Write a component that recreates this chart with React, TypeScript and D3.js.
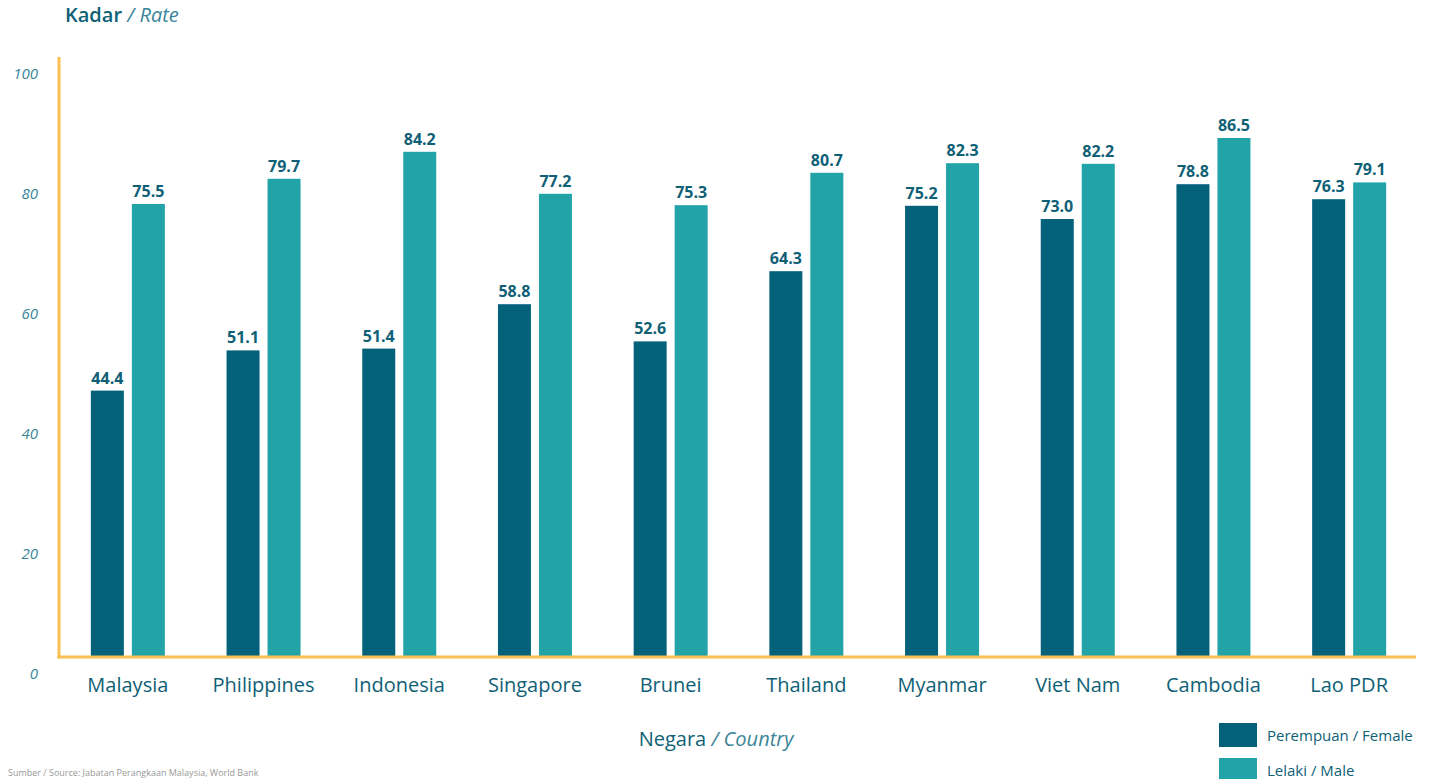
import React from "react";
import * as d3 from "d3";

const countries = ["Malaysia", "Philippines", "Indonesia", "Singapore", "Brunei", "Thailand", "Myanmar", "Viet Nam", "Cambodia", "Lao PDR"];
const female = [44.4, 51.1, 51.4, 58.8, 52.6, 64.3, 75.2, 73.0, 78.8, 76.3];
const male = [75.5, 79.7, 84.2, 77.2, 75.3, 80.7, 82.3, 82.2, 86.5, 79.1];
const yTicks = [0, 20, 40, 60, 80, 100];
const seriesNames = ["Perempuan / Female", "Lelaki / Male"];

const W = 1429;
const H = 779;
const FEMALE = "#03627a";
const MALE = "#21a3a8";
const DARK = "#0f5f76";
const LIGHT = "#3a8499";
const AXIS = "#f9bf52";
const FONT = "'Open Sans', Lato, sans-serif";

export default function App() {
  const left = 59, right = 1416, top = 57, bottom = 657;
  const x = d3.scaleBand<string>().domain(countries).range([left, right]).paddingInner(0).paddingOuter(0);
  const y = d3.scaleLinear().domain([0, 100]).range([bottom, top]);
  const barW = 33;
  const gap = 8;
  const bw = x.bandwidth();

  return (
    <svg width={W} height={H} style={{ position: "absolute", left: 0, top: 0, background: "#fff" }} fontFamily={FONT}>
      <text x={65} y={22} fontSize={20} fill={DARK}>
        <tspan fontWeight={600}>Kadar</tspan>
        <tspan fill={LIGHT} fontStyle="italic"> / Rate</tspan>
      </text>

      {yTicks.map((t) => (
        <text key={t} x={38} y={y(t) + 22} textAnchor="end" fontSize={15} fontStyle="italic" fill={LIGHT}>
          {t}
        </text>
      ))}

      {countries.map((c, i) => {
        const cx = (x(c) as number) + bw / 2 + 1;
        const fx = cx - gap / 2 - barW;
        const mx = cx + gap / 2;
        return (
          <g key={c}>
            <rect x={fx} y={y(female[i])} width={barW} height={bottom - y(female[i])} fill={FEMALE} />
            <rect x={mx} y={y(male[i])} width={barW} height={bottom - y(male[i])} fill={MALE} />
            <text x={fx + barW / 2} y={y(female[i]) - 7} textAnchor="middle" fontSize={16} fontWeight={700} fill={DARK}>
              {female[i].toFixed(1)}
            </text>
            <text x={mx + barW / 2} y={y(male[i]) - 7} textAnchor="middle" fontSize={16} fontWeight={700} fill={DARK}>
              {male[i].toFixed(1)}
            </text>
            <text x={cx} y={692} textAnchor="middle" fontSize={20} fontWeight={500} fill={DARK}>
              {c}
            </text>
          </g>
        );
      })}

      <line x1={left} x2={left} y1={top} y2={bottom + 1.5} stroke={AXIS} strokeWidth={3} />
      <line x1={left - 1.5} x2={right} y1={bottom} y2={bottom} stroke={AXIS} strokeWidth={3} />

      <text x={716} y={746} textAnchor="middle" fontSize={20} fill={DARK}>
        <tspan fontWeight={500}>Negara</tspan>
        <tspan fill={LIGHT} fontStyle="italic"> / Country</tspan>
      </text>

      {seriesNames.map((s, i) => (
        <g key={s} transform={`translate(1219, ${723 + i * 35})`}>
          <rect x={0} y={0} width={38} height={24} fill={i === 0 ? FEMALE : MALE} />
          <text x={48} y={18} fontSize={15} fill={DARK}>
            {s}
          </text>
        </g>
      ))}

      <text x={8} y={776} fontSize={9} fill="#999">
        Sumber / Source: Jabatan Perangkaan Malaysia, World Bank
      </text>
    </svg>
  );
}
